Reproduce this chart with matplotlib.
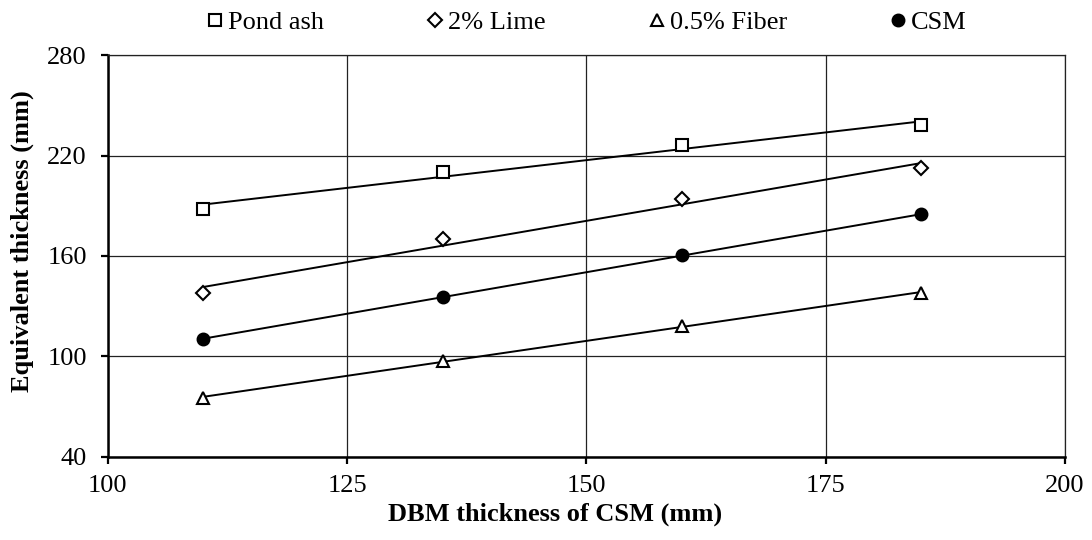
import matplotlib.pyplot as plt
import numpy as np

plt.rcParams['font.family'] = ['Liberation Serif', 'DejaVu Serif']

# --- data ---
dbm = [110, 135, 160, 185]
pond_ash = [188.0, 210.3, 226.0, 238.0]
lime_2 = [138.0, 169.9, 193.8, 212.3]
fiber_05 = [75.4, 97.2, 118.1, 138.0]
csm = [110.5, 135.4, 160.5, 184.8]

series = [
    ("Pond ash", pond_ash, 's', 'white', 8),
    ("2% Lime", lime_2, 'D', 'white', 7),
    ("0.5% Fiber", fiber_05, '^', 'white', 9),
    ("CSM", csm, 'o', 'black', 8.5),
]

fig = plt.figure(figsize=(10.92, 5.4), dpi=100)
ax = fig.add_axes([0.0986, 0.154, 0.8767, 0.744])

x = np.array(dbm)
for name, vals, mk, fc, ms in series:
    # linear trendline
    k, b = np.polyfit(x, vals, 1)
    ax.plot(x, k * x + b, color='black', lw=1.4, zorder=2)
    ax.plot(x, vals, linestyle='none', marker=mk, markersize=ms,
            markerfacecolor=fc, markeredgecolor='black', markeredgewidth=1.5,
            label=name, zorder=3)

ax.set_xlim(100, 200)
ax.set_ylim(40, 280)
ax.set_xticks([100, 125, 150, 175, 200])
ax.set_yticks([40, 100, 160, 220, 280])
ax.grid(True, color='#222222', lw=0.9)
ax.set_axisbelow(True)

for s in ['left', 'bottom']:
    ax.spines[s].set_linewidth(1.8)
for s in ['top', 'right']:
    ax.spines[s].set_linewidth(0.9)
    ax.spines[s].set_color('#222222')

ax.tick_params(direction='out', length=5, width=1.6, labelsize=19)
ax.tick_params(axis='y', pad=10)
ax.tick_params(axis='x', pad=8)

# axis titles placed like in the original
fig.text(0.508, 0.048, "DBM thickness of CSM (mm)", fontsize=19, fontweight='bold',
         ha='center', va='center')
fig.text(0.0201, 0.554, "Equivalent thickness (mm)", fontsize=19, fontweight='bold',
         rotation=90, ha='center', va='center')

fig.legend(loc='center', bbox_to_anchor=(0.5375, 0.959), ncol=4, frameon=False,
           fontsize=19, handlelength=0.6, handletextpad=0.2, columnspacing=3.9,
           borderaxespad=0)

fig.savefig("out.png", dpi=100)
